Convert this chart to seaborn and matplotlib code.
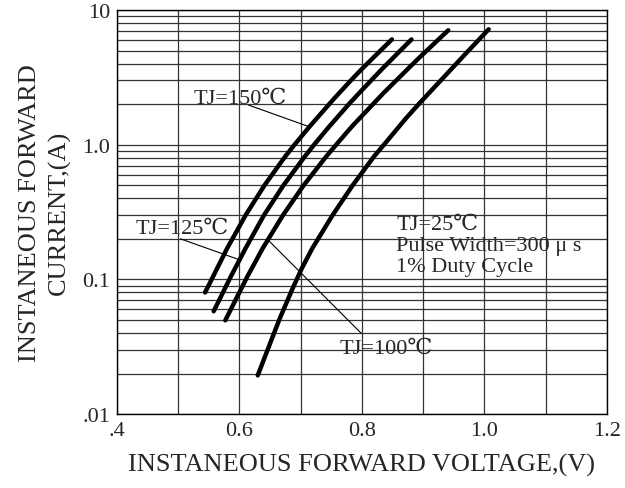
import numpy as np
import pandas as pd
import seaborn as sns
import matplotlib.pyplot as plt
from matplotlib.ticker import FixedLocator, NullFormatter, LogLocator

# forward voltage (V) / current (A)
v_150 = [0.544, 0.557, 0.580, 0.610, 0.641, 0.675, 0.690, 0.715, 0.755, 0.782, 0.801, 0.849]
i_150 = [0.080, 0.105, 0.170, 0.299, 0.50, 0.82, 1.0, 1.37, 2.21, 3.0, 3.69, 6.05]

v_125 = [0.558, 0.586, 0.610, 0.640, 0.672, 0.707, 0.722, 0.747, 0.780, 0.800, 0.834, 0.881]
i_125 = [0.058, 0.105, 0.170, 0.299, 0.50, 0.82, 1.0, 1.37, 2.03, 2.54, 3.69, 6.05]

v_100 = [0.577, 0.613, 0.638, 0.671, 0.705, 0.742, 0.758, 0.784, 0.835, 0.876, 0.896, 0.941]
i_100 = [0.0497, 0.105, 0.170, 0.299, 0.50, 0.82, 1.0, 1.37, 2.41, 3.69, 4.53, 7.07]

v_25 = [0.630, 0.647, 0.666, 0.687, 0.702, 0.719, 0.752, 0.785, 0.820, 0.836,
        0.872, 0.894, 0.932, 0.970, 1.007]
i_25 = [0.0194, 0.0308, 0.0514, 0.0859, 0.121, 0.170, 0.299, 0.50, 0.82, 1.0,
        1.57, 2.03, 3.11, 4.77, 7.19]

curves = {"TJ=150": (v_150, i_150), "TJ=125": (v_125, i_125),
          "TJ=100": (v_100, i_100), "TJ=25": (v_25, i_25)}

xticks = [0.4, 0.6, 0.8, 1.0, 1.2]
xtick_labels = [".4", "0.6", "0.8", "1.0", "1.2"]
yticks = [0.01, 0.1, 1.0, 10]
ytick_labels = [".01", "0.1", "1.0", "10"]

rows = []
for name, (v, i) in curves.items():
    for a, b in zip(v, i):
        rows.append({"curve": name, "V": a, "I": b})
df = pd.DataFrame(rows)

sns.set_style("white")
plt.rcParams['font.family'] = ['Liberation Serif', 'DejaVu Serif', 'DejaVu Sans']

fig = plt.figure(figsize=(6.25, 4.89), dpi=100)
ax = fig.add_axes([0.187, 0.151, 0.784, 0.8265])

for name in curves:
    sns.lineplot(data=df[df.curve == name], x="V", y="I", ax=ax, color="black",
                 linewidth=3.2, sort=False, estimator=None,
                 solid_capstyle="round", solid_joinstyle="round")

ax.set_yscale("log")
ax.set_xlim(0.4, 1.2)
ax.set_ylim(0.01, 10)

# grid
grid_x = np.round(np.arange(0.4, 1.21, 0.1), 1)
ax.xaxis.set_major_locator(FixedLocator(grid_x))
ax.set_xticklabels([xtick_labels[xticks.index(t)] if t in xticks else "" for t in grid_x])
ax.grid(True, which="major", axis="x", color="#333333", linewidth=0.9)
ax.set_yticks(yticks)
ax.set_yticklabels(ytick_labels)
ax.yaxis.set_minor_locator(LogLocator(base=10, subs=np.arange(2, 10)))
ax.yaxis.set_minor_formatter(NullFormatter())
ax.grid(True, which="both", axis="y", color="#333333", linewidth=0.9)
ax.tick_params(axis="both", which="both", length=0, labelsize=16, pad=5)

for s in ax.spines.values():
    s.set_color("black")
    s.set_linewidth(1.0)

ax.set_xlabel("INSTANEOUS FORWARD VOLTAGE,(V)", fontsize=19, labelpad=9)
ax.set_ylabel("INSTANEOUS FORWARD\nCURRENT,(A)", fontsize=19, labelpad=8, linespacing=1.4)

# labels and leader lines
fs = 16
lead = dict(arrowstyle="-", color="black", lw=0.8, shrinkA=0, shrinkB=0)
ax.text(0.525, 2.2, "TJ=150℃", fontsize=fs, va="center", ha="left")
ax.annotate("", xy=(0.712, 1.37), xytext=(0.615, 1.97), arrowprops=lead)
ax.text(0.430, 0.238, "TJ=125℃", fontsize=fs, va="center", ha="left")
ax.annotate("", xy=(0.598, 0.141), xytext=(0.504, 0.20), arrowprops=lead)
ax.text(0.764, 0.0306, "TJ=100℃", fontsize=fs, va="center", ha="left")
ax.annotate("", xy=(0.647, 0.196), xytext=(0.799, 0.0398), arrowprops=lead)
ax.text(0.856, 0.18, "TJ=25℃\nPulse Width=300 μ s\n1% Duty Cycle", fontsize=fs,
        va="center", ha="left", linespacing=1.15)

fig.savefig("out.png", dpi=100)
